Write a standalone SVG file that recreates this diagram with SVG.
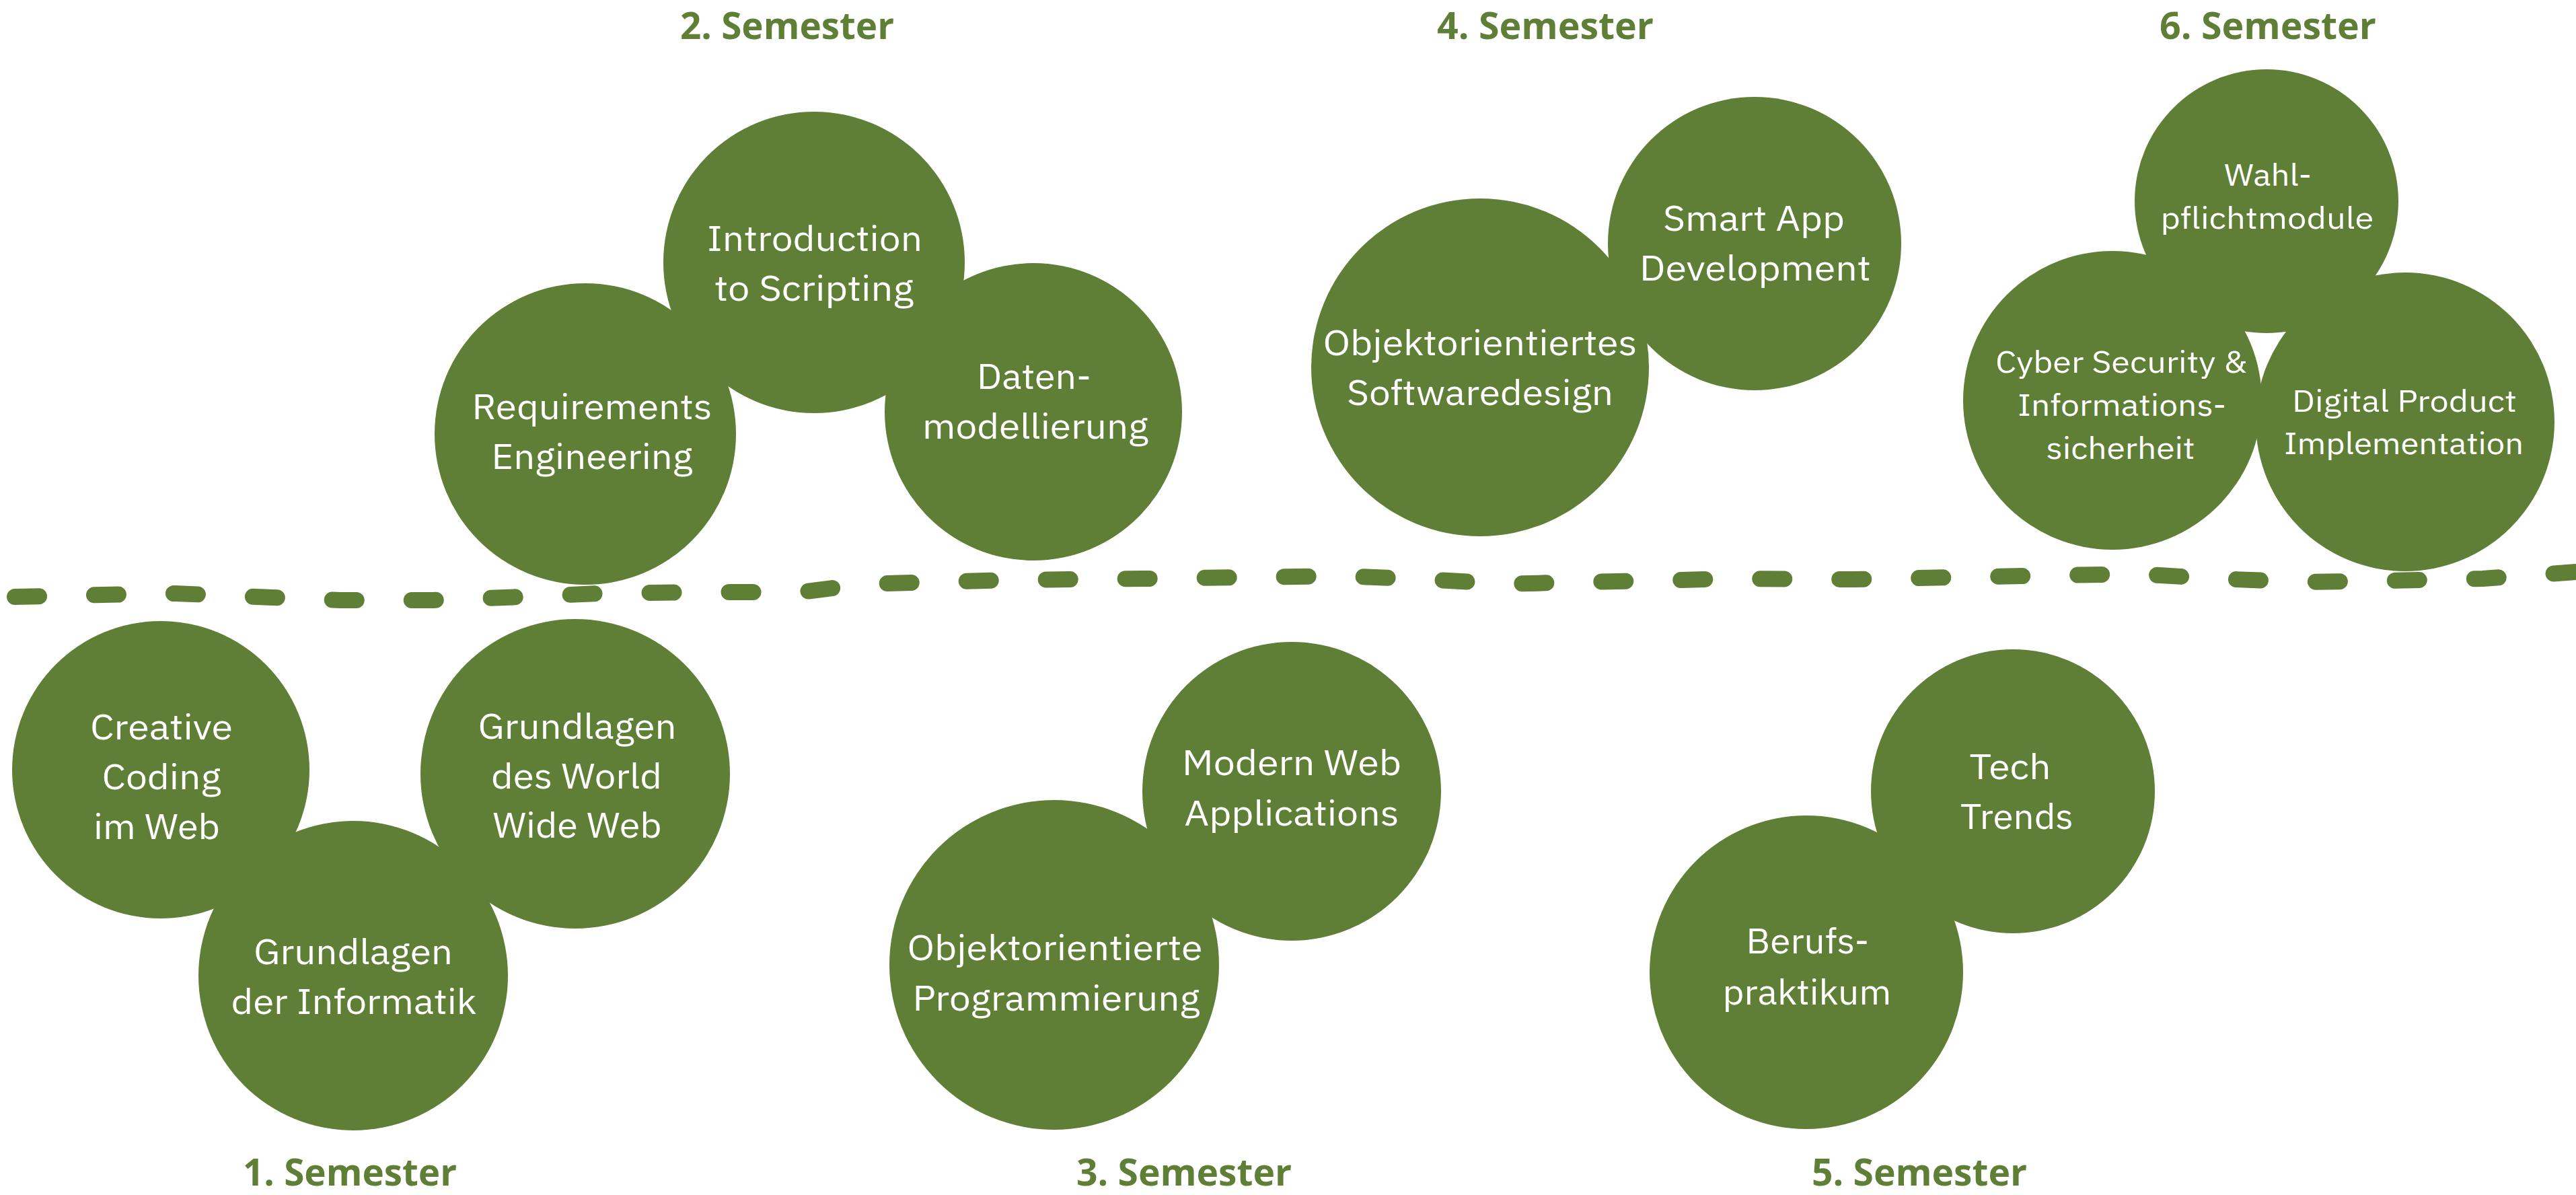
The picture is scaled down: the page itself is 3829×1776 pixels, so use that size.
<svg xmlns="http://www.w3.org/2000/svg" width="3829" height="1776" viewBox="0 0 3829 1776">
<style>
.c{fill:#5F7F37}
.t{fill:#ffffff;font-family:"IBM Plex Sans","Noto Sans","Open Sans",sans-serif;font-size:53px;text-anchor:middle}
.s{font-size:46px}
.h{fill:#5F7F37;font-family:"Open Sans","Noto Sans",sans-serif;font-weight:700;font-size:56px;text-anchor:middle}
.d{fill:none;stroke:#5F7F37;stroke-width:24;stroke-linecap:round;stroke-linejoin:round;stroke-dasharray:36 82}
</style>
<rect width="3829" height="1776" fill="#ffffff"/>
<g id="divider">
<path class="d" d="M22 887 L153 884 L261 882 L381 887 L506 892 L643 892 L775 887 L891 882 L1041 880 L1190 880 L1285 868 L1500 862 L1700 860 L1992 856 L2121 861 L2238 868 L2349 865 L2460 863 L2570 860 L2757 861 L2955 857 L3175 853 L3296 860 L3421 865 L3554 863 L3690 860 L3829 850"/>
</g>
<g id="labels">
<text class="h" x="1170" y="58" textLength="318" lengthAdjust="spacingAndGlyphs">2. Semester</text>
<text class="h" x="2297" y="58" textLength="322" lengthAdjust="spacingAndGlyphs">4. Semester</text>
<text class="h" x="3371" y="58" textLength="322" lengthAdjust="spacingAndGlyphs">6. Semester</text>
<text class="h" x="520" y="1762" textLength="318" lengthAdjust="spacingAndGlyphs">1. Semester</text>
<text class="h" x="1760" y="1762" textLength="320" lengthAdjust="spacingAndGlyphs">3. Semester</text>
<text class="h" x="2853" y="1762" textLength="320" lengthAdjust="spacingAndGlyphs">5. Semester</text>
</g>
<g id="connectors"></g>
<g id="n-creative-coding">
<circle class="c" cx="239" cy="1144" r="221"/>
<text class="t" x="240" y="1099" textLength="212" lengthAdjust="spacingAndGlyphs">Creative</text>
<text class="t" x="240" y="1173" textLength="177" lengthAdjust="spacingAndGlyphs">Coding</text>
<text class="t" x="233" y="1247" textLength="188" lengthAdjust="spacingAndGlyphs">im Web</text>
</g>
<g id="n-grundlagen-www">
<circle class="c" cx="855" cy="1150" r="230"/>
<text class="t" x="858" y="1098" textLength="295" lengthAdjust="spacingAndGlyphs">Grundlagen</text>
<text class="t" x="857" y="1172" textLength="254" lengthAdjust="spacingAndGlyphs">des World</text>
<text class="t" x="858" y="1245" textLength="251" lengthAdjust="spacingAndGlyphs">Wide Web</text>
</g>
<g id="n-grundlagen-informatik">
<circle class="c" cx="525" cy="1450" r="230"/>
<text class="t" x="525" y="1433" textLength="296" lengthAdjust="spacingAndGlyphs">Grundlagen</text>
<text class="t" x="526" y="1507" textLength="365" lengthAdjust="spacingAndGlyphs">der Informatik</text>
</g>
<g id="n-requirements">
<circle class="c" cx="870" cy="645" r="224"/>
<text class="t" x="880" y="623" textLength="357" lengthAdjust="spacingAndGlyphs">Requirements</text>
<text class="t" x="880" y="697" textLength="299" lengthAdjust="spacingAndGlyphs">Engineering</text>
</g>
<g id="n-introduction">
<circle class="c" cx="1210" cy="390" r="224"/>
<text class="t" x="1211" y="373" textLength="320" lengthAdjust="spacingAndGlyphs">Introduction</text>
<text class="t" x="1210" y="447" textLength="296" lengthAdjust="spacingAndGlyphs">to Scripting</text>
</g>
<g id="n-datenmodellierung">
<circle class="c" cx="1536" cy="612" r="221"/>
<text class="t" x="1537" y="578" textLength="170" lengthAdjust="spacingAndGlyphs">Daten-</text>
<text class="t" x="1539" y="652" textLength="336" lengthAdjust="spacingAndGlyphs">modellierung</text>
</g>
<g id="n-smart-app">
<circle class="c" cx="2608" cy="362" r="218"/>
<text class="t" x="2607" y="343" textLength="270" lengthAdjust="spacingAndGlyphs">Smart App</text>
<text class="t" x="2609" y="417" textLength="344" lengthAdjust="spacingAndGlyphs">Development</text>
</g>
<g id="n-oo-softwaredesign">
<circle class="c" cx="2200" cy="546" r="251"/>
<text class="t" x="2200" y="528" textLength="467" lengthAdjust="spacingAndGlyphs">Objektorientiertes</text>
<text class="t" x="2200" y="602" textLength="396" lengthAdjust="spacingAndGlyphs">Softwaredesign</text>
</g>
<g id="n-wahlpflicht">
<circle class="c" cx="3369" cy="299" r="196"/>
<text class="t s" x="3371" y="276" textLength="130" lengthAdjust="spacingAndGlyphs">Wahl-</text>
<text class="t s" x="3370" y="340" textLength="317" lengthAdjust="spacingAndGlyphs">pflichtmodule</text>
</g>
<g id="n-cyber-security">
<circle class="c" cx="3140" cy="595" r="222"/>
<text class="t s" x="3153" y="554" textLength="374" lengthAdjust="spacingAndGlyphs">Cyber Security &amp;</text>
<text class="t s" x="3154" y="618" textLength="310" lengthAdjust="spacingAndGlyphs">Informations-</text>
<text class="t s" x="3152" y="682" textLength="221" lengthAdjust="spacingAndGlyphs">sicherheit</text>
</g>
<g id="n-digital-product">
<circle class="c" cx="3575" cy="627" r="222"/>
<text class="t s" x="3574" y="612" textLength="334" lengthAdjust="spacingAndGlyphs">Digital Product</text>
<text class="t s" x="3573" y="675" textLength="356" lengthAdjust="spacingAndGlyphs">Implementation</text>
</g>
<g id="n-modern-web">
<circle class="c" cx="1920" cy="1176" r="222"/>
<text class="t" x="1920" y="1152" textLength="326" lengthAdjust="spacingAndGlyphs">Modern Web</text>
<text class="t" x="1920" y="1227" textLength="319" lengthAdjust="spacingAndGlyphs">Applications</text>
</g>
<g id="n-oop">
<circle class="c" cx="1567" cy="1434" r="245"/>
<text class="t" x="1568" y="1427" textLength="439" lengthAdjust="spacingAndGlyphs">Objektorientierte</text>
<text class="t" x="1570" y="1502" textLength="427" lengthAdjust="spacingAndGlyphs">Programmierung</text>
</g>
<g id="n-tech-trends">
<circle class="c" cx="2992" cy="1176" r="211"/>
<text class="t" x="2988" y="1158" textLength="121" lengthAdjust="spacingAndGlyphs">Tech</text>
<text class="t" x="2998" y="1232" textLength="168" lengthAdjust="spacingAndGlyphs">Trends</text>
</g>
<g id="n-berufspraktikum">
<circle class="c" cx="2685" cy="1445" r="233"/>
<text class="t" x="2687" y="1417" textLength="183" lengthAdjust="spacingAndGlyphs">Berufs-</text>
<text class="t" x="2686" y="1493" textLength="251" lengthAdjust="spacingAndGlyphs">praktikum</text>
</g>
</svg>
